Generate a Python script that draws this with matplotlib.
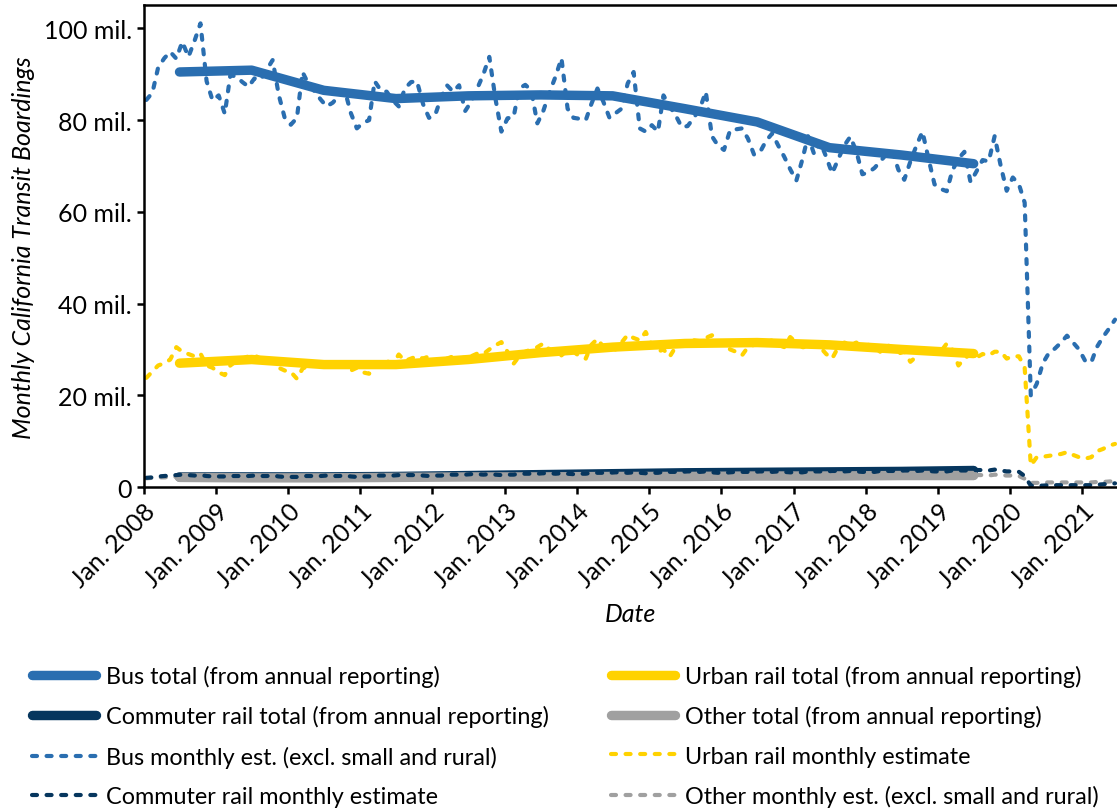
import numpy as np
import pandas as pd
import matplotlib
matplotlib.use('Agg')
import matplotlib.pyplot as plt
from matplotlib.lines import Line2D

plt.rcParams['font.family'] = ['Lato', 'DejaVu Sans']

# monthly estimates, Jan 2008 .. Jun 2021 (millions)
bus_monthly = [
    84.4, 86.0, 91.5, 93.5, 94.9, 93.4, 97.1, 93.8, 97.3, 101.1, 88.5, 84.3,
    85.4, 81.4, 89.8, 89.5, 88.3, 87.3, 89.1, 88.8, 91.0, 93.1, 85.5, 80.5,
    79.0, 80.5, 90.5, 87.8, 86.3, 84.5, 83.0, 83.8, 85.3, 86.5, 81.5, 78.2,
    79.4, 80.0, 88.5, 86.5, 86.2, 84.3, 83.0, 86.9, 88.3, 88.5, 83.5, 80.5,
    81.1, 85.0, 87.6, 86.2, 87.6, 82.0, 84.0, 86.9, 90.0, 93.8, 84.7, 77.5,
    80.4, 80.7, 86.9, 87.7, 86.5, 79.3, 82.0, 86.0, 89.5, 93.5, 82.5, 80.5,
    80.3, 80.0, 83.5, 86.9, 84.0, 80.5, 81.5, 82.5, 88.0, 90.5, 78.2, 77.5,
    78.9, 77.5, 85.4, 83.0, 81.1, 78.5, 78.7, 80.5, 82.5, 86.2, 76.5, 74.5,
    73.5, 77.8, 78.0, 78.2, 76.0, 72.5, 73.0, 75.5, 77.1, 74.5, 72.0, 69.3,
    66.8, 71.5, 76.5, 72.6, 75.3, 72.0, 68.4, 71.5, 74.5, 76.4, 73.1, 68.2,
    68.6, 69.6, 71.0, 72.5, 73.4, 69.2, 67.0, 71.0, 74.5, 77.5, 71.5, 66.0,
    65.0, 64.5, 69.0, 71.6, 73.1, 66.5, 68.8, 71.3, 71.0, 76.5, 70.0, 64.6,
    67.5, 66.0, 62.0, 20.0, 22.5, 27.0, 29.2, 30.2, 31.5, 33.0, 31.5, 30.0,
    27.5, 27.2, 30.5, 32.7, 34.5, 36.5,
]
urban_monthly = [
    23.8, 25.2, 26.5, 27.0, 27.8, 30.5, 29.5, 29.0, 28.5, 29.1, 26.5, 26.0,
    25.0, 24.4, 26.5, 27.5, 28.0, 28.5, 28.7, 28.0, 27.5, 27.8, 26.0, 25.4,
    25.1, 23.6, 25.8, 26.5, 27.0, 26.8, 26.5, 27.0, 26.5, 27.0, 25.4, 26.0,
    25.0, 24.7, 26.5, 27.0, 27.5, 26.8, 28.9, 27.5, 28.0, 28.5, 28.0, 28.5,
    27.0, 27.5, 28.0, 28.5, 27.5, 28.5, 28.5, 29.1, 29.0, 30.0, 30.9, 31.6,
    29.5, 26.9, 28.5, 29.5, 30.0, 30.5, 31.3, 30.0, 29.5, 28.7, 30.0, 29.5,
    28.5, 28.0, 31.0, 32.3, 30.5, 31.0, 30.0, 31.5, 33.2, 32.5, 32.0, 33.8,
    31.0, 29.5, 30.0, 28.4, 30.5, 31.0, 31.5, 32.0, 31.8, 32.5, 33.1, 31.5,
    31.5, 30.0, 29.5, 28.7, 30.5, 31.0, 31.5, 31.5, 32.0, 31.0, 30.5, 32.7,
    31.5, 30.5, 30.5, 31.5, 30.5, 29.0, 28.0, 30.5, 31.5, 31.0, 31.5, 30.0,
    31.0, 30.5, 29.5, 31.0, 30.5, 29.1, 29.5, 27.3, 28.5, 30.5, 30.0, 29.5,
    29.5, 31.3, 30.0, 26.5, 28.0, 29.0, 28.2, 29.0, 28.7, 29.5, 29.5, 28.0,
    28.5, 28.5, 26.0, 4.7, 6.5, 6.6, 6.8, 7.0, 7.2, 7.6, 7.0, 6.5,
    6.2, 6.5, 7.8, 8.3, 9.0, 9.4,
]
commuter_monthly = [
    2.0, 2.1, 2.3, 2.4, 2.5, 2.6, 2.7, 2.6, 2.5, 2.6, 2.4, 2.3,
    2.3, 2.3, 2.4, 2.4, 2.4, 2.4, 2.5, 2.4, 2.4, 2.5, 2.3, 2.2,
    2.2, 2.2, 2.4, 2.4, 2.4, 2.4, 2.5, 2.4, 2.4, 2.5, 2.3, 2.2,
    2.3, 2.3, 2.5, 2.5, 2.5, 2.5, 2.6, 2.6, 2.6, 2.6, 2.5, 2.4,
    2.5, 2.5, 2.7, 2.7, 2.7, 2.7, 2.8, 2.8, 2.7, 2.8, 2.7, 2.6,
    2.7, 2.7, 2.9, 2.9, 2.9, 2.9, 3.0, 3.0, 2.9, 3.0, 2.9, 2.8,
    2.9, 2.9, 3.1, 3.1, 3.1, 3.1, 3.2, 3.2, 3.1, 3.2, 3.1, 3.0,
    3.1, 3.1, 3.3, 3.3, 3.3, 3.3, 3.4, 3.4, 3.3, 3.4, 3.2, 3.1,
    3.1, 3.2, 3.3, 3.3, 3.3, 3.3, 3.4, 3.4, 3.3, 3.4, 3.3, 3.2,
    3.2, 3.2, 3.4, 3.4, 3.4, 3.4, 3.5, 3.5, 3.4, 3.5, 3.4, 3.3,
    3.3, 3.3, 3.5, 3.5, 3.5, 3.5, 3.6, 3.6, 3.5, 3.6, 3.5, 3.4,
    3.4, 3.4, 3.6, 3.6, 3.6, 3.6, 3.7, 3.7, 3.6, 3.8, 3.6, 3.4,
    3.4, 3.3, 2.4, 0.3, 0.3, 0.3, 0.4, 0.4, 0.4, 0.4, 0.4, 0.4,
    0.4, 0.4, 0.5, 0.6, 0.7, 0.8,
]
other_monthly = [
    1.9, 2.0, 2.1, 2.1, 2.2, 2.2, 2.2, 2.2, 2.1, 2.2, 2.0, 2.0,
    2.0, 2.0, 2.1, 2.1, 2.1, 2.1, 2.1, 2.1, 2.0, 2.1, 2.0, 1.9,
    1.9, 1.9, 2.0, 2.0, 2.0, 2.0, 2.1, 2.1, 2.0, 2.1, 2.0, 1.9,
    2.0, 2.0, 2.1, 2.1, 2.1, 2.1, 2.2, 2.2, 2.1, 2.2, 2.1, 2.0,
    2.1, 2.1, 2.2, 2.2, 2.2, 2.2, 2.3, 2.3, 2.2, 2.3, 2.2, 2.1,
    2.1, 2.1, 2.2, 2.2, 2.2, 2.2, 2.3, 2.3, 2.2, 2.3, 2.2, 2.1,
    2.2, 2.2, 2.3, 2.3, 2.3, 2.3, 2.4, 2.4, 2.3, 2.4, 2.3, 2.2,
    2.2, 2.2, 2.3, 2.3, 2.3, 2.3, 2.4, 2.4, 2.3, 2.4, 2.3, 2.2,
    2.3, 2.3, 2.4, 2.4, 2.4, 2.4, 2.5, 2.5, 2.4, 2.5, 2.4, 2.3,
    2.3, 2.3, 2.4, 2.4, 2.4, 2.4, 2.5, 2.5, 2.4, 2.5, 2.4, 2.3,
    2.4, 2.4, 2.5, 2.5, 2.5, 2.5, 2.6, 2.6, 2.5, 2.6, 2.5, 2.4,
    2.4, 2.4, 2.5, 2.5, 2.5, 2.5, 2.6, 2.6, 2.5, 2.7, 2.6, 2.5,
    2.5, 2.4, 1.8, 0.9, 0.9, 1.0, 1.0, 1.0, 1.0, 1.0, 1.0, 1.0,
    1.0, 1.0, 1.1, 1.1, 1.2, 1.3,
]

# annual reporting totals, plotted at mid-year
years = list(range(2008, 2020))
bus_total = [90.5, 90.9, 86.5, 84.7, 85.3, 85.5, 85.3, 82.5, 79.6, 74.0, 72.4, 70.5]
urban_total = [27.0, 27.8, 26.7, 26.7, 27.8, 29.3, 30.5, 31.3, 31.5, 31.0, 30.0, 29.1]
commuter_total = [2.2, 2.2, 2.2, 2.3, 2.5, 2.7, 2.9, 3.1, 3.2, 3.3, 3.4, 3.6]
other_total = [2.1, 2.0, 2.0, 2.1, 2.2, 2.2, 2.3, 2.3, 2.4, 2.4, 2.5, 2.5]

months = pd.date_range('2008-01-01', periods=len(bus_monthly), freq='MS') + pd.Timedelta(days=14)
mid_years = pd.to_datetime([f'{y}-07-01' for y in years])

c_bus = '#2a6eb0'
c_urban = '#ffd200'
c_comm = '#06365e'
c_other = '#a0a0a0'

fig = plt.figure(figsize=(11.17, 8.12), dpi=100)
ax = fig.add_axes([0.1285, 0.399, 0.8715, 0.593])

dash_kw = dict(lw=3.0, ls=(0, (1.2, 2.3)), dash_capstyle='round')
tot_kw = dict(lw=6.8, solid_capstyle='round')

# annual totals underneath, monthly estimates on top
ax.plot(mid_years, bus_total, color=c_bus, **tot_kw)
ax.plot(mid_years, urban_total, color=c_urban, **tot_kw)
ax.plot(mid_years, commuter_total, color=c_comm, **tot_kw)
ax.plot(mid_years, other_total, color=c_other, **tot_kw)
ax.plot(months, bus_monthly, color=c_bus, **dash_kw)
ax.plot(months, urban_monthly, color=c_urban, **dash_kw)
ax.plot(months, other_monthly, color=c_other, **dash_kw)
ax.plot(months, commuter_monthly, color=c_comm, **dash_kw)

ax.set_ylim(0, 105)
ax.set_xlim(pd.Timestamp('2008-01-01'), pd.Timestamp('2021-06-25'))
ax.set_yticks([0, 20, 40, 60, 80, 100])
ax.set_yticklabels(['0', '20 mil.', '40 mil.', '60 mil.', '80 mil.', '100 mil.'])
tick_dates = pd.to_datetime([f'{y}-01-01' for y in range(2008, 2022)])
ax.set_xticks(tick_dates)
ax.set_xticklabels([f'Jan. {d.year}' for d in tick_dates], rotation=45, ha='right',
                   rotation_mode='anchor')
ax.tick_params(labelsize=18, width=1.8, length=5, direction='out', colors='black')
ax.spines['right'].set_visible(False)
for s in ['left', 'top', 'bottom']:
    ax.spines[s].set_linewidth(1.8)
ax.set_xlabel('Date', fontsize=18, style='italic', labelpad=8)
ax.set_ylabel('Monthly California Transit Boardings', fontsize=18, style='italic', labelpad=6)

def h(color, dashed):
    if dashed:
        return Line2D([], [], color=color, **dash_kw)
    return Line2D([], [], color=color, **tot_kw)

leg_kw = dict(loc='upper left', frameon=False, fontsize=16.8, borderpad=0, borderaxespad=0,
              handlelength=2.75, handletextpad=0.43, labelspacing=0.78)
col1 = [(h(c_bus, False), 'Bus total (from annual reporting)'),
        (h(c_comm, False), 'Commuter rail total (from annual reporting)'),
        (h(c_bus, True), 'Bus monthly est. (excl. small and rural)'),
        (h(c_comm, True), 'Commuter rail monthly estimate')]
col2 = [(h(c_urban, False), 'Urban rail total (from annual reporting)'),
        (h(c_other, False), 'Other total (from annual reporting)'),
        (h(c_urban, True), 'Urban rail monthly estimate'),
        (h(c_other, True), 'Other monthly est. (excl. small and rural)')]
l1 = fig.legend([a for a, b in col1], [b for a, b in col1],
                bbox_to_anchor=(32 / 1117, 1 - 666 / 812), **leg_kw)
l2 = fig.legend([a for a, b in col2], [b for a, b in col2],
                bbox_to_anchor=(611 / 1117, 1 - 666 / 812), **leg_kw)

fig.savefig('out.png', dpi=100)
